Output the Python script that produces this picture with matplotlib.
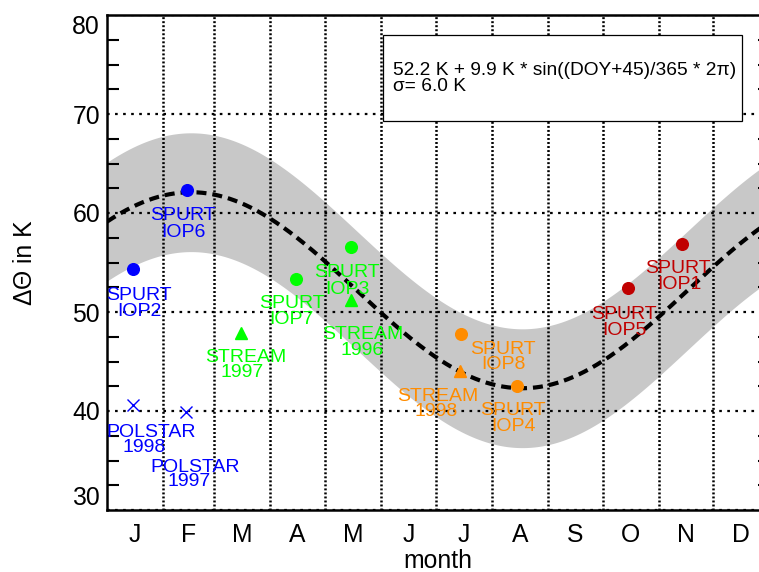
import matplotlib
matplotlib.use("Agg")
import matplotlib.pyplot as plt
from matplotlib.patches import Rectangle
from matplotlib.ticker import MultipleLocator
import numpy as np

plt.rcParams["font.family"] = ["Liberation Sans", "DejaVu Sans"]
plt.rcParams["lines.scale_dashes"] = False

# Seasonal fit parameters (K, days)
mean_k = 52.2
amp_k = 9.9
phase_days = 45
sigma_k = 6.0

# Campaign observations: day of year and Delta-Theta (K)
doy = [44, 14.5, 14.5, 43.5, 74, 104, 134.5, 134.5, 195, 194.5, 226, 287, 317]
dtheta = [62.3, 54.3, 40.6, 39.9, 47.9, 53.3, 56.6, 51.2, 47.8, 44.0, 42.5, 52.4, 56.9]
marker_kind = ["o", "o", "x", "x", "^", "o", "o", "^", "o", "^", "o", "o", "o"]
point_colors = ["#0000ff", "#0000ff", "#0000ff", "#0000ff",
                "#00ff00", "#00ff00", "#00ff00", "#00ff00",
                "#ff8c00", "#ff8c00", "#ff8c00",
                "#c00000", "#c00000"]
label_top = ["SPURT", "SPURT", "POLSTAR", "POLSTAR", "STREAM", "SPURT", "SPURT",
             "STREAM", "SPURT", "STREAM", "SPURT", "SPURT", "SPURT"]
label_bottom = ["IOP6", "IOP2", "1998", "1997", "1997", "IOP7", "IOP3",
                "1996", "IOP8", "1998", "IOP4", "IOP5", "IOP1"]

# Label placement relative to each marker, in pixels: (dx1, dy1, dx2, dy2)
label_offsets_px = [(-4, 23, -3, 40), (6, 24, 6, 40), (18, 25, 11, 40),
                    (9, 53, 3, 67), (4, 22, 1, 37), (-4, 22, -4, 38),
                    (-4, 23, -4, 40), (12, 32, 11, 48), (42, 13, 42, 28),
                    (-22, 23, -24, 38), (-4, 22, -4, 38), (-4, 24, -3, 40),
                    (-4, 22, -3, 38)]

month_edges = [31, 59, 90, 120, 151, 181, 212, 243, 273, 304, 334]
month_centers = [15.5, 45, 74.5, 105, 135.5, 166, 196.5, 227.5, 258, 288.5, 319, 349.5]
month_labels = ["J", "F", "M", "A", "M", "J", "J", "A", "S", "O", "N", "D"]
y_ticks = [30, 40, 50, 60, 70, 80]

W, H, DPI = 759, 572, 100
PX = 72.0 / DPI

fig = plt.figure(figsize=(W / DPI, H / DPI), dpi=DPI)
ax = fig.add_axes([107 / W, 1 - 510 / H, 662.5 / W, 495 / H])
ax.set_xlim(0, 365)
ax.set_ylim(30, 80)

# Fitted seasonal cycle with +/- sigma band
days = np.linspace(0, 365, 731)
fit = mean_k + amp_k * np.sin((days + phase_days) / 365.0 * 2 * np.pi)
ax.fill_between(days, fit - sigma_k, fit + sigma_k, color="#c8c8c8", lw=0, zorder=1)
ax.plot(days, fit, color="k", lw=3.0, linestyle=(0, (7.2, 4.3)), zorder=2)

# Observations and their labels
for i in range(len(doy)):
    m = marker_kind[i]
    c = point_colors[i]
    if m == "x":
        ax.plot(doy[i], dtheta[i], marker="x", ms=8.4, mew=1.0, color=c,
                linestyle="none", zorder=3)
    else:
        ax.plot(doy[i], dtheta[i], marker=m, ms=8.4, color=c, mec=c,
                linestyle="none", zorder=3)
    dx1, dy1, dx2, dy2 = label_offsets_px[i]
    for txt, dx, dy in ((label_top[i], dx1, dy1), (label_bottom[i], dx2, dy2)):
        ax.annotate(txt, xy=(doy[i], dtheta[i]),
                    xytext=(dx * PX, -(dy + 7.0) * PX), textcoords="offset points",
                    ha="center", va="baseline", color=c, fontsize=14.0, zorder=3)

# Axes, ticks and grid
ax.set_xticks(month_edges)
ax.set_xticklabels([])
ax.set_xticks(month_centers, minor=True)
ax.set_xticklabels(month_labels, minor=True)
ax.tick_params(axis="x", which="both", length=0)
ax.tick_params(axis="x", which="minor", pad=9.4, labelsize=17.8)

ax.set_yticks(y_ticks)
ax.yaxis.set_minor_locator(MultipleLocator(2.5))
ax.tick_params(axis="y", which="major", length=0, pad=5, labelsize=17.8)
ax.tick_params(axis="y", which="minor", length=8.4, width=1.5, direction="in",
               left=True, right=True, color="k")
yt = ax.yaxis.get_major_ticks()
yt[0].label1.set_va("bottom")
yt[-1].label1.set_va("top")

ax.set_axisbelow("line")
ax.xaxis.grid(True, which="major", color="k", lw=1.8, linestyle=(0, (1.4, 1.5)))
ax.yaxis.grid(True, which="major", color="k", lw=1.6, linestyle=(0, (1.9, 3.9)))

for s in ax.spines.values():
    s.set_linewidth(1.8)
    s.set_color("k")

ax.set_ylabel("ΔΘ in K", fontsize=17.8)
ax.yaxis.set_label_coords(-0.106, 0.5)
ax.set_xlabel("month", fontsize=17.8)
ax.xaxis.set_label_coords(0.5, -0.079)

# Fit description box
ax.add_patch(Rectangle((0.417, 0.786), 0.541, 0.174, transform=ax.transAxes,
                       fc="white", ec="k", lw=0.9, zorder=4))
ax.text(0.4317, 0.879,
        f"{mean_k:.1f} K + {amp_k:.1f} K * sin((DOY+{phase_days})/365 * 2π)",
        transform=ax.transAxes, fontsize=13.8, va="baseline", zorder=5)
ax.text(0.4317, 0.847, f"σ= {sigma_k:.1f} K",
        transform=ax.transAxes, fontsize=13.8, va="baseline", zorder=5)

fig.savefig("out.png", dpi=DPI)
